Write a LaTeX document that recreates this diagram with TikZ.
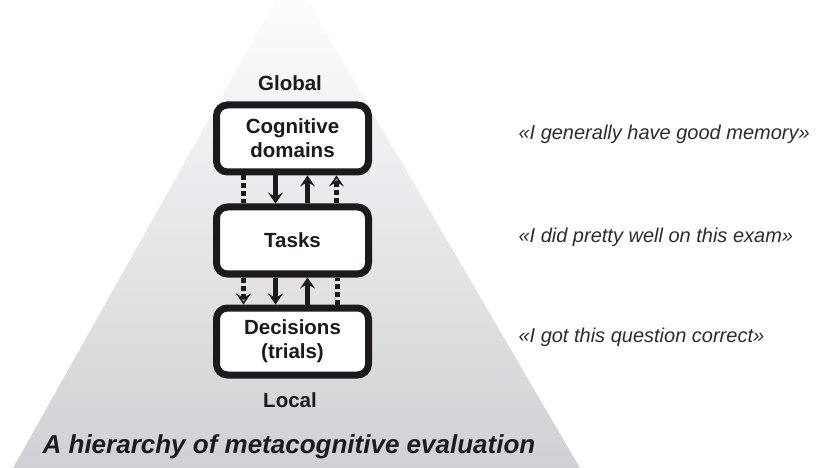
\documentclass[tikz,border=0pt]{standalone}
\usepackage{fontspec}
\setmainfont{Liberation Sans}
\usetikzlibrary{arrows.meta}
\definecolor{pyrtop}{RGB}{255,255,255}
\definecolor{pyrmid}{RGB}{238,239,241}
\definecolor{pyrbase}{RGB}{208,209,212}
\definecolor{ink}{RGB}{28,26,28}
\definecolor{quoteink}{RGB}{45,45,48}
\begin{document}
\begin{tikzpicture}[x=1pt,y=-1pt,
  tier/.style={draw=ink, line width=7pt, fill=white, rounded corners=11pt,
    minimum width=152pt, minimum height=67pt, align=center, text=ink,
    font=\bfseries\fontsize{20.5}{24}\selectfont},
  endlabel/.style={text=ink, font=\bfseries\fontsize{20.5}{24}\selectfont},
  saying/.style={anchor=west, text=quoteink, font=\itshape\fontsize{20}{24}\selectfont},
  headline/.style={text=ink, font=\bfseries\itshape\fontsize{26}{30}\selectfont},
  link/.style={draw=ink, line width=4.2pt},
  solidarr/.style={link, -{Stealth[length=11pt,width=15pt,inset=4.5pt]}},
  dashline/.style={link, dash pattern=on 5pt off 3pt},
  dasharr/.style={dashline, -{Stealth[open,fill=white,length=11pt,width=15pt,inset=4.5pt,line width=3pt]}}
]
\useasboundingbox (0,0) rectangle (831,468);

% graded pyramid behind the levels
\begin{scope}
  \clip (291,-27) -- (580,468) -- (13,468) -- cycle;
  \shade[top color=pyrtop, middle color=pyrmid, bottom color=pyrbase] (0,-27) rectangle (831,468);
\end{scope}

% the three levels
\node[tier] (cd) at (292.5,138.5) {Cognitive\\domains};
\node[tier] (ta) at (292.5,240.5) {Tasks};
\node[tier] (de) at (292.5,341.5) {Decisions\\(trials)};

\node[endlabel] (gl) at (290,83) {Global};
\node[endlabel] (lo) at (290,400) {Local};

% links between cognitive domains and tasks
\draw[dashline] ([xshift=-49pt]cd.south) -- ([xshift=-49pt]ta.north);
\draw[solidarr] ([xshift=-17pt]cd.south) -- ([xshift=-17pt]ta.north);
\draw[solidarr] ([xshift=15pt]ta.north) -- ([xshift=15pt]cd.south);
\draw[dasharr] ([xshift=44pt]ta.north) -- ([xshift=44pt]cd.south);

% links between tasks and decisions
\draw[dasharr] ([xshift=-49pt]ta.south) -- ([xshift=-49pt]de.north);
\draw[solidarr] ([xshift=-17pt]ta.south) -- ([xshift=-17pt]de.north);
\draw[solidarr] ([xshift=15pt]de.north) -- ([xshift=15pt]ta.south);
\draw[dashline] ([xshift=45pt]de.north) -- ([xshift=45pt]ta.south);

% example self-reports
\node[saying] (q1) at (515,134) {«I generally have good memory»};
\node[saying] (q2) at (515,237) {«I did pretty well on this exam»};
\node[saying] (q3) at (515,337) {«I got this question correct»};

\node[headline] (title) at (289,447) {A hierarchy of metacognitive evaluation};
\end{tikzpicture}
\end{document}
